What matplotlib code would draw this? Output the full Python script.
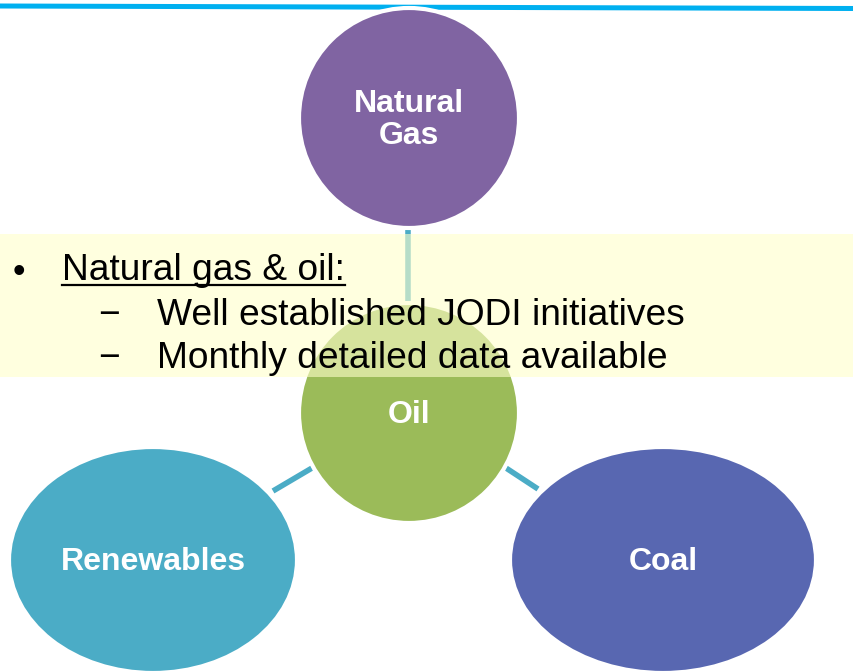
import matplotlib.pyplot as plt
from matplotlib.patches import Ellipse, Rectangle

# Daten
nodes = ['Natural\nGas', 'Oil', 'Renewables', 'Coal']
bullet = 'Natural gas & oil:'
sub_items = ['Well established JODI initiatives', 'Monthly detailed data available']

# Layout (Pixel-Koordinaten)
centers = [(409, 118), (409, 413), (153, 560), (663, 560)]
radii = [(110, 110), (110, 110), (144, 113), (153, 113)]
colors = ['#8064A2', '#9BBB59', '#4BACC6', '#5867B1']
links = [((408, 226), (408, 305)), ((273, 491), (312, 468)), ((506, 468), (538, 489))]

plt.rcParams['font.family'] = ['Liberation Sans', 'DejaVu Sans']

fig = plt.figure(figsize=(8.54, 6.72), dpi=100)
ax = fig.add_axes([0, 0, 1, 1])
ax.set_xlim(0, 854)
ax.set_ylim(672, 0)
ax.axis('off')

# blaue Linie oben
ax.plot([0, 854], [6, 8.5], color='#00B0F0', lw=3.6, solid_capstyle='butt', zorder=1)

# Verbindungen
for (x0, y0), (x1, y1) in links:
    ax.plot([x0, x1], [y0, y1], color='#4BACC6', lw=4, solid_capstyle='butt', zorder=2)

# Kreise
for name, (cx, cy), (rx, ry), c in zip(nodes, centers, radii, colors):
    ax.add_patch(Ellipse((cx, cy), 2 * rx, 2 * ry, facecolor=c, edgecolor='white',
                         lw=3, zorder=3))
    ax.text(cx, cy + 2, name, color='white', fontsize=23, fontweight='bold',
            ha='center', va='center', linespacing=1.1, zorder=4)

# gelber Kasten
ax.add_patch(Rectangle((0, 234), 854, 143, facecolor='#FFFFCB', alpha=0.6,
                       edgecolor='none', zorder=5))

ax.text(19, 282, '\u2022', fontsize=26, ha='center', va='baseline', zorder=6)
ax.text(62, 280, bullet, fontsize=26.7, va='baseline', zorder=6)
ax.plot([62, 345], [284.5, 284.5], color='black', lw=1.6, zorder=6)
for i, item in enumerate(sub_items):
    y = 325 + i * 43
    ax.text(98, y, '\u2212', fontsize=26.7, va='baseline', zorder=6)
    ax.text(157, y, item, fontsize=26.7, va='baseline', zorder=6)

fig.savefig('out.png', dpi=100)
